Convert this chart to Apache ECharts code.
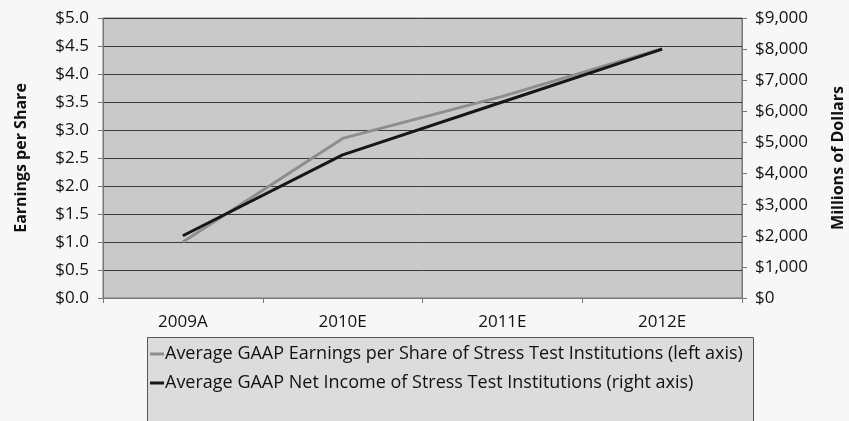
<!DOCTYPE html>
<html><head><meta charset="utf-8">
<script src="https://cdn.jsdelivr.net/npm/echarts@6/dist/echarts.min.js"></script>
<style>html,body{margin:0;padding:0;background:#f7f7f7}#c{width:849px;height:421px}</style>
</head><body><div id="c"></div>
<script>
const categories = ['2009A', '2010E', '2011E', '2012E'];
const epsValues = [1.0, 2.85, 3.6, 4.45];
const netIncomeValues = [2000, 4600, 6300, 8000];
const leftTicks = [0, 0.5, 1, 1.5, 2, 2.5, 3, 3.5, 4, 4.5, 5];
const rightTicks = [0, 1000, 2000, 3000, 4000, 5000, 6000, 7000, 8000, 9000];
const seriesNames = ['Average GAAP Earnings per Share of Stress Test Institutions (left axis)',
  'Average GAAP Net Income of Stress Test Institutions (right axis)'];

const font = 'Open Sans';
const chart = echarts.init(document.getElementById('c'), null, {renderer: 'canvas'});
chart.setOption({
  backgroundColor: '#f7f7f7',
  animation: false,
  grid: {left: 103, right: 107, top: 18, bottom: 123, outerBoundsMode: 'none', containLabel: false,
    show: true, backgroundColor: '#c9c9c9', borderColor: '#777', borderWidth: 1},
  graphic: [{
    type: 'rect', left: 147, top: 337, z: -1,
    shape: {width: 606, height: 100},
    style: {fill: '#dcdcdc', stroke: '#555', lineWidth: 1}
  }],
  legend: {
    orient: 'vertical', left: 147, top: 337,
    itemWidth: 14, itemHeight: 3, itemGap: 11,
    padding: [8, 8, 4, 3],
    textStyle: {fontFamily: font, fontSize: 18, color: '#111', padding: [0, 0, 0, -4]},
    icon: 'rect',
    data: seriesNames
  },
  xAxis: {
    type: 'category', data: categories, boundaryGap: true,
    axisLine: {lineStyle: {color: '#777'}},
    axisTick: {show: true, alignWithLabel: false, length: 5, lineStyle: {color: '#777'}},
    axisLabel: {fontFamily: font, fontSize: 17, color: '#111', margin: 16}
  },
  yAxis: [{
    type: 'value', min: 0, max: 5, interval: 0.5,
    name: 'Earnings per Share', nameLocation: 'middle', nameRotate: 90, nameGap: 74,
    nameTextStyle: {fontFamily: font, fontSize: 16, fontWeight: 'bold', color: '#111'},
    axisLine: {show: true, lineStyle: {color: '#777'}},
    axisTick: {show: true, length: 5, lineStyle: {color: '#777'}},
    splitLine: {lineStyle: {color: '#3a3a3a', width: 1}},
    axisLabel: {fontFamily: font, fontSize: 17, color: '#111', margin: 14,
      formatter: v => '$' + v.toFixed(1)}
  }, {
    type: 'value', min: 0, max: 9000, interval: 1000, position: 'right',
    name: 'Millions of Dollars', nameLocation: 'middle', nameRotate: 90, nameGap: 88,
    nameTextStyle: {fontFamily: font, fontSize: 16, fontWeight: 'bold', color: '#111'},
    axisLine: {show: true, lineStyle: {color: '#777'}},
    axisTick: {show: true, length: 5, lineStyle: {color: '#777'}},
    splitLine: {show: false},
    axisLabel: {fontFamily: font, fontSize: 17, color: '#111', margin: 13,
      formatter: v => '$' + v.toLocaleString('en-US')}
  }],
  series: [{
    name: seriesNames[0], type: 'line', yAxisIndex: 0, data: epsValues,
    symbol: 'none', lineStyle: {color: '#8e8e8e', width: 3}, itemStyle: {color: '#8e8e8e'}
  }, {
    name: seriesNames[1], type: 'line', yAxisIndex: 1, data: netIncomeValues,
    symbol: 'none', lineStyle: {color: '#161616', width: 3}, itemStyle: {color: '#161616'}
  }]
});
</script></body></html>
